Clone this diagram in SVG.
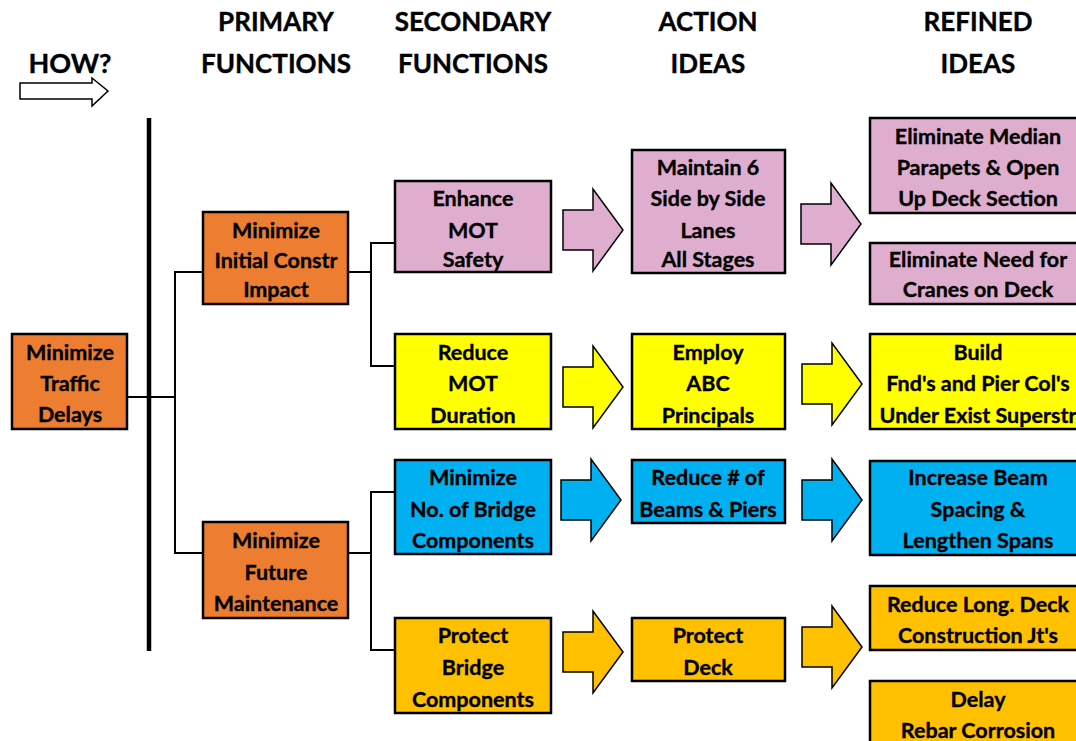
<svg xmlns="http://www.w3.org/2000/svg" width="1076" height="741" viewBox="0 0 1076 741">
  <style>
    text { font-family: Lato, "Liberation Sans", sans-serif; font-weight: 700; fill: #000; stroke: #000; stroke-width: 0.35; text-anchor: middle; }
    .hdr { font-size: 26px; }
    .how { font-size: 27px; }
    .lbl { font-size: 21.5px; }
    .box { stroke: #000; stroke-width: 2.5; }
    .orange { fill: #ED7D31; }
    .pink { fill: #DFADCE; }
    .yellow { fill: #FFFF00; }
    .blue { fill: #00B0F0; }
    .gold { fill: #FFC000; }
    .wire { fill: none; stroke: #000; stroke-width: 2; }
    .barr { stroke: #000; stroke-width: 1.5; stroke-linejoin: miter; }
  </style>
  <defs>
    <!-- block arrow, 60 wide, drawn around its tip height -->
    <path id="blockArrow" d="M0,-20 H30 V-41 L60,0 L30,41 V20 H0 Z"/>
  </defs>
  <rect width="1076" height="741" fill="#fff"/>

  <!-- column headings -->
  <g id="headings">
    <text class="how" x="70" y="73">HOW?</text>
    <text class="hdr" x="276" y="31">PRIMARY</text>
    <text class="hdr" x="276" y="73">FUNCTIONS</text>
    <text class="hdr" x="473" y="31">SECONDARY</text>
    <text class="hdr" x="473" y="73">FUNCTIONS</text>
    <text class="hdr" x="708" y="31">ACTION</text>
    <text class="hdr" x="708" y="73">IDEAS</text>
    <text class="hdr" x="978" y="31">REFINED</text>
    <text class="hdr" x="978" y="73">IDEAS</text>
    <path d="M20,83 H92 V78 L108,91 L92,106 V99 H20 Z" fill="#fff" stroke="#000" stroke-width="1.5"/>
  </g>

  <!-- tree connectors -->
  <g id="connectors">
    <line x1="149" y1="118" x2="149" y2="651" stroke="#000" stroke-width="4.5"/>
    <path class="wire" d="M127,397 H175"/>
    <path class="wire" d="M203,272 H175 V553 H203"/>
    <path class="wire" d="M348,272 H372"/>
    <path class="wire" d="M395,243 H371 V366 H395"/>
    <path class="wire" d="M348,553 H372"/>
    <path class="wire" d="M395,492 H371 V650 H395"/>
  </g>

  <!-- block arrows between columns -->
  <g id="flow-arrows">
    <use href="#blockArrow" class="barr pink" transform="translate(563,230)"/>
    <use href="#blockArrow" class="barr pink" transform="translate(801,224)"/>
    <use href="#blockArrow" class="barr yellow" transform="translate(563,387)"/>
    <use href="#blockArrow" class="barr yellow" transform="translate(802,384)"/>
    <use href="#blockArrow" class="barr blue" transform="translate(561,500)"/>
    <use href="#blockArrow" class="barr blue" transform="translate(802,500)"/>
    <use href="#blockArrow" class="barr gold" transform="translate(563,652)"/>
    <use href="#blockArrow" class="barr gold" transform="translate(802,647)"/>
  </g>

  <!-- goal -->
  <g id="n-traffic">
    <rect class="box orange" x="12" y="334" width="115" height="95"/>
    <text class="lbl" x="70" y="360">Minimize</text>
    <text class="lbl" x="70" y="391">Traffic</text>
    <text class="lbl" x="70" y="422">Delays</text>
  </g>

  <!-- primary functions -->
  <g id="n-initial">
    <rect class="box orange" x="203" y="212" width="145" height="92"/>
    <text class="lbl" x="276" y="238">Minimize</text>
    <text class="lbl" x="276" y="268">Initial Constr</text>
    <text class="lbl" x="276" y="297">Impact</text>
  </g>
  <g id="n-future">
    <rect class="box orange" x="203" y="522" width="145" height="96"/>
    <text class="lbl" x="276" y="548">Minimize</text>
    <text class="lbl" x="276" y="580">Future</text>
    <text class="lbl" x="276" y="611">Maintenance</text>
  </g>

  <!-- secondary functions -->
  <g id="n-enhance">
    <rect class="box pink" x="395" y="181" width="156" height="91"/>
    <text class="lbl" x="473" y="206">Enhance</text>
    <text class="lbl" x="473" y="238">MOT</text>
    <text class="lbl" x="473" y="267">Safety</text>
  </g>
  <g id="n-reduce-mot">
    <rect class="box yellow" x="395" y="334" width="156" height="95"/>
    <text class="lbl" x="473" y="360">Reduce</text>
    <text class="lbl" x="473" y="391">MOT</text>
    <text class="lbl" x="473" y="423">Duration</text>
  </g>
  <g id="n-min-components">
    <rect class="box blue" x="395" y="460" width="156" height="94"/>
    <text class="lbl" x="473" y="485">Minimize</text>
    <text class="lbl" x="473" y="517">No. of Bridge</text>
    <text class="lbl" x="473" y="548">Components</text>
  </g>
  <g id="n-protect-components">
    <rect class="box gold" x="395" y="618" width="156" height="95"/>
    <text class="lbl" x="473" y="643">Protect</text>
    <text class="lbl" x="473" y="675">Bridge</text>
    <text class="lbl" x="473" y="707">Components</text>
  </g>

  <!-- action ideas -->
  <g id="n-maintain">
    <rect class="box pink" x="632" y="150" width="153" height="123"/>
    <text class="lbl" x="708" y="175">Maintain 6</text>
    <text class="lbl" x="708" y="206">Side by Side</text>
    <text class="lbl" x="708" y="238">Lanes</text>
    <text class="lbl" x="708" y="267">All Stages</text>
  </g>
  <g id="n-employ">
    <rect class="box yellow" x="632" y="334" width="153" height="95"/>
    <text class="lbl" x="708" y="360">Employ</text>
    <text class="lbl" x="708" y="391">ABC</text>
    <text class="lbl" x="708" y="423">Principals</text>
  </g>
  <g id="n-reduce-beams">
    <rect class="box blue" x="632" y="460" width="153" height="63"/>
    <text class="lbl" x="708" y="485">Reduce # of</text>
    <text class="lbl" x="708" y="517">Beams &amp; Piers</text>
  </g>
  <g id="n-protect-deck">
    <rect class="box gold" x="632" y="618" width="153" height="63"/>
    <text class="lbl" x="708" y="643">Protect</text>
    <text class="lbl" x="708" y="675">Deck</text>
  </g>

  <!-- refined ideas -->
  <g id="n-median">
    <rect class="box pink" x="870" y="118" width="230" height="95"/>
    <text class="lbl" x="978" y="144">Eliminate Median</text>
    <text class="lbl" x="978" y="175">Parapets &amp; Open</text>
    <text class="lbl" x="978" y="206">Up Deck Section</text>
  </g>
  <g id="n-cranes">
    <rect class="box pink" x="870" y="243" width="230" height="61"/>
    <text class="lbl" x="978" y="267">Eliminate Need for</text>
    <text class="lbl" x="978" y="297">Cranes on Deck</text>
  </g>
  <g id="n-build">
    <rect class="box yellow" x="870" y="334" width="230" height="95"/>
    <text class="lbl" x="978" y="360">Build</text>
    <text class="lbl" x="978" y="391">Fnd's and Pier Col's</text>
    <text class="lbl" x="978" y="423">Under Exist Superstr</text>
  </g>
  <g id="n-spacing">
    <rect class="box blue" x="870" y="461" width="230" height="94"/>
    <text class="lbl" x="978" y="485">Increase Beam</text>
    <text class="lbl" x="978" y="517">Spacing &amp;</text>
    <text class="lbl" x="978" y="548">Lengthen Spans</text>
  </g>
  <g id="n-joints">
    <rect class="box gold" x="870" y="586" width="230" height="64"/>
    <text class="lbl" x="978" y="612">Reduce Long. Deck</text>
    <text class="lbl" x="978" y="643">Construction Jt's</text>
  </g>
  <g id="n-corrosion">
    <rect class="box gold" x="870" y="681" width="230" height="80"/>
    <text class="lbl" x="978" y="707">Delay</text>
    <text class="lbl" x="978" y="738">Rebar Corrosion</text>
  </g>
</svg>
